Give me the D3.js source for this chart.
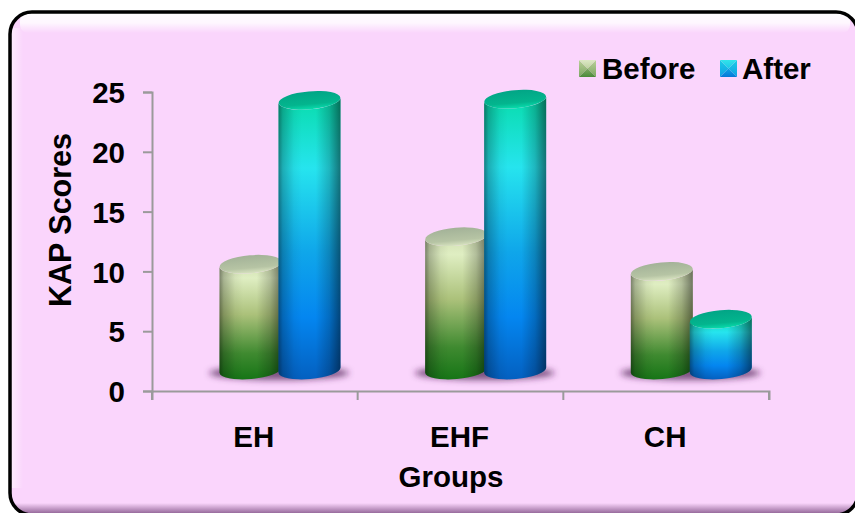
<!DOCTYPE html>
<html>
<head>
<meta charset="utf-8">
<script src="https://cdn.jsdelivr.net/npm/d3@7"></script>
<style>
  html, body { margin: 0; padding: 0; background: #fff; overflow: hidden; }
  svg { display: block; }
  text { font-family: "Liberation Sans", Arial, sans-serif; font-weight: 700; fill: #000; }
</style>
</head>
<body>
<div id="chart"></div>
<script>
// KAP scores by group, before and after the intervention
const groups = ["EH", "EHF", "CH"];
const seriesNames = ["Before", "After"];
const beforeScores = [10.6, 12.9, 10.0];
const afterScores = [24.3, 24.4, 6.0];
const yTicks = [0, 5, 10, 15, 20, 25];

const W = 855, H = 513;
const svg = d3.select("#chart").append("svg").attr("width", W).attr("height", H);
const defs = svg.append("defs");

// Linear gradient helper
function linGrad(id, x2, y2, stops) {
  const g = defs.append("linearGradient").attr("id", id)
    .attr("x1", 0).attr("y1", 0).attr("x2", x2).attr("y2", y2);
  stops.forEach(s => g.append("stop").attr("offset", s[0]).attr("stop-color", s[1]).attr("stop-opacity", s[2] === undefined ? 1 : s[2]));
}

linGrad("bodyBefore", 0, 1, [[0, "#cfdcb0"], [0.14, "#dfeec2"], [0.45, "#abc17a"], [0.78, "#3f8a30"], [1, "#167516"]]);
linGrad("bodyAfter", 0, 1, [[0, "#08dcac"], [0.25, "#26e4ee"], [0.55, "#0fa6ea"], [0.78, "#0486f0"], [1, "#0460c0"]]);
linGrad("capBefore", 0, 1, [[0, "#a3b298"], [0.7, "#b6c4a4"], [1, "#d8e3c0"]]);
linGrad("capAfter", 0, 1, [[0, "#02a586"], [0.7, "#03b58e"], [1, "#08dcac"]]);
linGrad("sideShade", 1, 0, [[0, "#000", 0.45], [0.07, "#000", 0.24], [0.25, "#000", 0.05], [0.38, "#000", 0], [0.6, "#000", 0], [0.82, "#000", 0.2], [1, "#000", 0.5]]);
linGrad("keyTopBefore", 0, 1, [[0, "#dde8c6"], [1, "#bed2a0"]]);
linGrad("keySideBefore", 0, 1, [[0, "#bcd09a"], [1, "#7aa660"]]);
linGrad("keyBotBefore", 0, 1, [[0, "#7fa964"], [1, "#4a8a3a"]]);
linGrad("keyTopAfter", 0, 1, [[0, "#32e4ea"], [1, "#1cc8e8"]]);
linGrad("keySideAfter", 0, 1, [[0, "#1ccce6"], [1, "#0ea0e4"]]);
linGrad("keyBotAfter", 0, 1, [[0, "#0ea4e6"], [1, "#0478d8"]]);
linGrad("topGlow", 0, 1, [[0, "#fff", 0.95], [0.5, "#fff", 0.8], [1, "#fff", 0]]);
linGrad("leftGlow", 1, 0, [[0, "#fff", 0.55], [1, "#fff", 0]]);
linGrad("botShade", 0, 1, [[0, "#6a3a70", 0], [1, "#6a3a70", 0.75]]);

const soft = defs.append("filter").attr("id", "soft")
  .attr("x", "-30%").attr("y", "-100%").attr("width", "160%").attr("height", "300%");
soft.append("feGaussianBlur").attr("stdDeviation", 3);

// Rounded panel with a black outline, clipped by the page on the right and bottom
const panel = { x: 10, y: 12, w: 848, h: 503, r: 22 };
const panelColor = "#fad5fc";
const clip = defs.append("clipPath").attr("id", "panelClip");
clip.append("rect").attr("x", panel.x).attr("y", panel.y).attr("width", panel.w).attr("height", panel.h).attr("rx", panel.r);
svg.append("rect").attr("x", panel.x).attr("y", panel.y).attr("width", panel.w).attr("height", panel.h)
  .attr("rx", panel.r).attr("fill", panelColor);

// Bevel: bright along the top, pale along the left, dim along the bottom
const bevel = svg.append("g").attr("clip-path", "url(#panelClip)");
bevel.append("rect").attr("x", 20).attr("y", 13).attr("width", panel.w - 18).attr("height", 20)
  .attr("rx", 8).attr("fill", "url(#topGlow)");
bevel.append("rect").attr("x", 11).attr("y", 28).attr("width", 12).attr("height", 460)
  .attr("fill", "url(#leftGlow)");
bevel.append("rect").attr("x", 10).attr("y", 503).attr("width", panel.w).attr("height", 11)
  .attr("fill", "url(#botShade)");

svg.append("rect").attr("x", panel.x).attr("y", panel.y).attr("width", panel.w).attr("height", panel.h)
  .attr("rx", panel.r).attr("fill", "none").attr("stroke", "#000").attr("stroke-width", 3.5);

// Scales
const margin = { left: 152, right: 769, top: 92, bottom: 391 };
const y = d3.scaleLinear().domain([0, 25]).range([margin.bottom, margin.top]);
const x0 = d3.scaleBand().domain(groups).range([margin.left, margin.right]);
const x1 = d3.scaleBand().domain(seriesNames).range([69, 187]);

// Axes
const axisColor = "#9a9a9a";
const labelSize = 29.5;
const xAxis = svg.append("g").attr("transform", `translate(0,${margin.bottom})`)
  .call(d3.axisBottom(x0).tickSize(9).tickFormat(""));
xAxis.selectAll(".tick").remove();
xAxis.selectAll("line.edge").data(d3.range(groups.length + 1)).join("line")
  .attr("class", "edge")
  .attr("x1", i => margin.left + i * x0.step()).attr("x2", i => margin.left + i * x0.step())
  .attr("y1", 0).attr("y2", 9).attr("stroke", axisColor).attr("stroke-width", 2);
const yAxis = svg.append("g").attr("transform", `translate(${margin.left},0)`)
  .call(d3.axisLeft(y).tickValues(yTicks).tickSize(9).tickPadding(18));
[xAxis, yAxis].forEach(a => a.selectAll(".domain")
  .attr("stroke", axisColor).attr("stroke-width", 2).attr("fill", "none"));
yAxis.selectAll(".tick line").attr("stroke", axisColor).attr("stroke-width", 2);
yAxis.selectAll(".tick text").attr("font-size", labelSize)
  .style("font-family", '"Liberation Sans", Arial, sans-serif').style("font-weight", 700).attr("dy", "0.36em");

// Category labels and axis titles
svg.selectAll("text.group").data(groups).join("text").attr("class", "group")
  .attr("x", d => x0(d) + x0.bandwidth() / 2 - 1).attr("y", 447)
  .attr("text-anchor", "middle").attr("font-size", labelSize).text(d => d);
svg.append("text").attr("x", 451).attr("y", 487).attr("text-anchor", "middle").attr("font-size", labelSize).text("Groups");
svg.append("text").attr("transform", "translate(71,220) rotate(-90)")
  .attr("text-anchor", "middle").attr("font-size", 30.5).text("KAP Scores");

// Cylinders stand on a floor plane set back from the axis line
const floorOffset = 21, rx = 31, ry = 9, tilt = -5;
const rows = groups.map((g, i) => ({ group: g, before: beforeScores[i], after: afterScores[i] }));

function cylinderPath(cx, topY, baseY) {
  const dy = rx * Math.sin(-tilt * Math.PI / 180);
  return `M${cx - rx},${topY + dy} L${cx - rx},${baseY + dy}
    A${rx},${ry} ${tilt} 0 0 ${cx + rx},${baseY - dy}
    L${cx + rx},${topY - dy}
    A${rx},${ry} ${tilt} 0 1 ${cx - rx},${topY + dy} Z`;
}

const baseY = y(0) - floorOffset;
const groupG = svg.selectAll("g.cluster").data(rows).join("g").attr("class", "cluster")
  .attr("transform", d => `translate(${x0(d.group)},0)`);

// Soft floor shadow under each pair
groupG.append("ellipse").attr("cx", (x1("Before") + x1.bandwidth() + x1("After")) / 2 - 1)
  .attr("cy", baseY + 3).attr("rx", 70).attr("ry", 7)
  .attr("fill", "#4a1f4f").attr("fill-opacity", 0.7).attr("filter", "url(#soft)");

seriesNames.forEach(name => {
  const key = name.toLowerCase();
  const cyl = groupG.append("g").datum(d => ({ v: d[key], cx: x1(name) + x1.bandwidth() / 2 }));
  const top = d => y(d.v);
  cyl.append("path").attr("d", d => cylinderPath(d.cx, top(d), baseY)).attr("fill", `url(#body${name})`);
  cyl.append("path").attr("d", d => cylinderPath(d.cx, top(d), baseY)).attr("fill", "url(#sideShade)");
  cyl.append("ellipse").attr("cx", d => d.cx).attr("cy", d => top(d))
    .attr("rx", rx).attr("ry", ry)
    .attr("transform", d => `rotate(${tilt} ${d.cx} ${top(d)})`)
    .attr("fill", `url(#cap${name})`);
});

// Legend: bevelled square keys
const legend = [{ name: "Before", kx: 579, tx: 602 }, { name: "After", kx: 720, tx: 742 }];
const keySize = 17, keyTop = 60;
const lg = svg.selectAll("g.key").data(legend).join("g").attr("class", "key");
const corner = d => ({ l: d.kx, r: d.kx + keySize, t: keyTop, b: keyTop + keySize, mx: d.kx + keySize / 2, my: keyTop + keySize / 2 });
lg.append("path").attr("d", d => { const c = corner(d); return `M${c.l},${c.t}L${c.mx},${c.my}L${c.l},${c.b}Z`; })
  .attr("fill", d => `url(#keySide${d.name})`);
lg.append("path").attr("d", d => { const c = corner(d); return `M${c.r},${c.t}L${c.mx},${c.my}L${c.r},${c.b}Z`; })
  .attr("fill", d => `url(#keySide${d.name})`);
lg.append("path").attr("d", d => { const c = corner(d); return `M${c.l},${c.b}L${c.mx},${c.my}L${c.r},${c.b}Z`; })
  .attr("fill", d => `url(#keyBot${d.name})`);
lg.append("path").attr("d", d => { const c = corner(d); return `M${c.l},${c.t}L${c.r},${c.t}L${c.mx},${c.my}Z`; })
  .attr("fill", d => `url(#keyTop${d.name})`);
lg.append("text").attr("x", d => d.tx).attr("y", 79).attr("font-size", labelSize).text(d => d.name);
</script>
</body>
</html>
